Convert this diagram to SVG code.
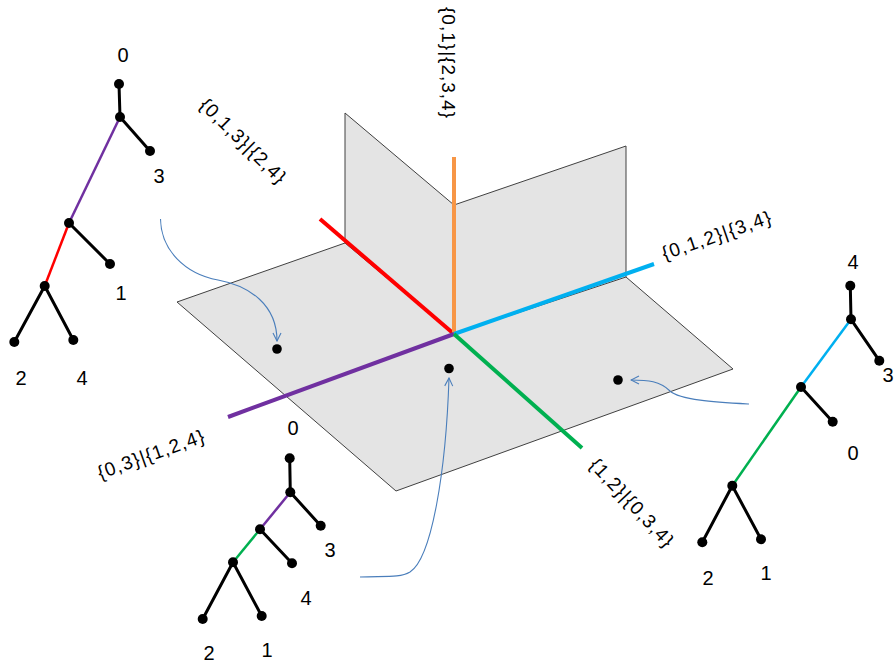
<svg xmlns="http://www.w3.org/2000/svg" width="894" height="665" viewBox="0 0 894 665">
<defs>
<style>
.plane{fill:#e4e4e4;stroke:none}
.edge{fill:none;stroke:#404040;stroke-width:1}
.wing{fill:#e4e4e4;stroke:#404040;stroke-width:1}
.axis{stroke-width:4;fill:none;stroke-linecap:butt}
.t{stroke:#000;stroke-width:3;fill:none;stroke-linecap:round}
.tc{stroke-width:2.5;fill:none}
.dot{fill:#000}
.lbl{font-family:"Liberation Sans",Arial,sans-serif;font-size:20px;fill:#000;text-anchor:middle}
.split{font-family:"Liberation Sans",Arial,sans-serif;font-size:19px;fill:#000;text-anchor:middle}
.arr{fill:none;stroke:#4a7ebb;stroke-width:1.1}
</style>
<marker id="ah" viewBox="0 0 10 10" refX="9" refY="5" markerWidth="10" markerHeight="10" markerUnits="userSpaceOnUse" orient="auto">
<path d="M1,1 L9,5 L1,9" fill="none" stroke="#4a7ebb" stroke-width="1.1"/>
</marker>
</defs>
<rect width="894" height="665" fill="#fff"/>

<g id="planes">
<polygon class="plane" points="177,302 345,243 454,334 626,277 733,369 396,491"/>
<polyline class="edge" points="345,243 177,302 396,491 733,369 626,277"/>
<polygon class="wing" points="345,113 454,205 454,334 345,243"/>
<polygon class="wing" points="454,205 626,146 626,277 454,334"/>
<line class="axis" x1="320" y1="219" x2="454" y2="334" stroke="#ff0000"/>
<line class="axis" x1="454" y1="157" x2="454" y2="334" stroke="#f79646"/>
<line class="axis" x1="454" y1="334" x2="654" y2="264" stroke="#00b0f0"/>
<line class="axis" x1="454" y1="334" x2="228" y2="417" stroke="#7030a0"/>
<line class="axis" x1="454" y1="334" x2="582" y2="448" stroke="#00b050"/>
<circle class="dot" cx="277" cy="349" r="4.8"/>
<circle class="dot" cx="449" cy="368.5" r="4.8"/>
<circle class="dot" cx="618" cy="380" r="4.8"/>
</g>

<g id="split-labels">
<text class="split" transform="translate(442,62.5) rotate(90)" textLength="111" lengthAdjust="spacing">{0,1}|{2,3,4}</text>
<text class="split" transform="translate(238.5,145.5) rotate(44.5)" textLength="112" lengthAdjust="spacing">{0,1,3}|{2,4}</text>
<text class="split" transform="translate(718.5,241.5) rotate(-19)" textLength="114" lengthAdjust="spacing">{0,1,2}|{3,4}</text>
<text class="split" transform="translate(153,460.5) rotate(-19.7)" textLength="112" lengthAdjust="spacing">{0,3}|{1,2,4}</text>
<text class="split" transform="translate(627,507) rotate(47)" textLength="113" lengthAdjust="spacing">{1,2}|{0,3,4}</text>
</g>

<g id="tree-left">
<line class="t" x1="119" y1="84" x2="120" y2="117"/>
<line class="t" x1="120" y1="117" x2="150" y2="151"/>
<line class="tc" x1="120" y1="117" x2="69" y2="223" stroke="#7030a0"/>
<line class="t" x1="69" y1="223" x2="110" y2="264"/>
<line class="tc" x1="69" y1="223" x2="44.7" y2="286" stroke="#ff0000"/>
<line class="t" x1="44.7" y1="286" x2="14.3" y2="342"/>
<line class="t" x1="44.7" y1="286" x2="73.3" y2="340"/>
<circle class="dot" cx="119" cy="84" r="5"/>
<circle class="dot" cx="120" cy="117" r="5"/>
<circle class="dot" cx="150" cy="151" r="5"/>
<circle class="dot" cx="69" cy="223" r="5"/>
<circle class="dot" cx="110" cy="264" r="5"/>
<circle class="dot" cx="44.7" cy="286" r="5"/>
<circle class="dot" cx="14.3" cy="342" r="5"/>
<circle class="dot" cx="73.3" cy="340" r="5"/>
<text class="lbl" x="123" y="62">0</text>
<text class="lbl" x="159" y="183">3</text>
<text class="lbl" x="121" y="300">1</text>
<text class="lbl" x="21" y="385">2</text>
<text class="lbl" x="82" y="385">4</text>
</g>

<g id="tree-bottom">
<line class="t" x1="289.7" y1="458.3" x2="290.3" y2="492.3"/>
<line class="t" x1="290.3" y1="492.3" x2="320.7" y2="525.7"/>
<line class="tc" x1="290.3" y1="492.3" x2="260" y2="529.3" stroke="#7030a0"/>
<line class="t" x1="260" y1="529.3" x2="292" y2="563.3"/>
<line class="tc" x1="260" y1="529.3" x2="233" y2="562.3" stroke="#00b050"/>
<line class="t" x1="233" y1="562.3" x2="202.7" y2="619"/>
<line class="t" x1="233" y1="562.3" x2="261.7" y2="616"/>
<circle class="dot" cx="289.7" cy="458.3" r="5"/>
<circle class="dot" cx="290.3" cy="492.3" r="5"/>
<circle class="dot" cx="320.7" cy="525.7" r="5"/>
<circle class="dot" cx="260" cy="529.3" r="5"/>
<circle class="dot" cx="292" cy="563.3" r="5"/>
<circle class="dot" cx="233" cy="562.3" r="5"/>
<circle class="dot" cx="202.7" cy="619" r="5"/>
<circle class="dot" cx="261.7" cy="616" r="5"/>
<text class="lbl" x="293" y="435">0</text>
<text class="lbl" x="330" y="557">3</text>
<text class="lbl" x="306" y="605">4</text>
<text class="lbl" x="209" y="660">2</text>
<text class="lbl" x="267" y="657">1</text>
</g>

<g id="tree-right">
<line class="t" x1="850.3" y1="285.7" x2="851" y2="319.3"/>
<line class="t" x1="851" y1="319.3" x2="879.3" y2="360.7"/>
<line class="tc" x1="851" y1="319.3" x2="801" y2="387" stroke="#00b0f0"/>
<line class="t" x1="801" y1="387" x2="832.7" y2="421.7"/>
<line class="tc" x1="801" y1="387" x2="732.3" y2="485.7" stroke="#00b050"/>
<line class="t" x1="732.3" y1="485.7" x2="702.3" y2="542.3"/>
<line class="t" x1="732.3" y1="485.7" x2="761" y2="539.3"/>
<circle class="dot" cx="850.3" cy="285.7" r="5"/>
<circle class="dot" cx="851" cy="319.3" r="5"/>
<circle class="dot" cx="879.3" cy="360.7" r="5"/>
<circle class="dot" cx="801" cy="387" r="5"/>
<circle class="dot" cx="832.7" cy="421.7" r="5"/>
<circle class="dot" cx="732.3" cy="485.7" r="5"/>
<circle class="dot" cx="702.3" cy="542.3" r="5"/>
<circle class="dot" cx="761" cy="539.3" r="5"/>
<text class="lbl" x="853" y="269">4</text>
<text class="lbl" x="888" y="382">3</text>
<text class="lbl" x="853" y="460">0</text>
<text class="lbl" x="708" y="585">2</text>
<text class="lbl" x="766" y="580">1</text>
</g>

<g id="connectors">
<path class="arr" marker-end="url(#ah)" d="M160.5,219 C161,250 185,274 218,280 C250,286 277,305 277,341"/>
<path class="arr" marker-end="url(#ah)" d="M360,577 C385,576 400,578 410,572 C432,558 446,470 449,378"/>
<path class="arr" marker-end="url(#ah)" d="M749,404 C715,402 680,400 670,391 C660,381 648,380 631,380"/>
</g>
</svg>
